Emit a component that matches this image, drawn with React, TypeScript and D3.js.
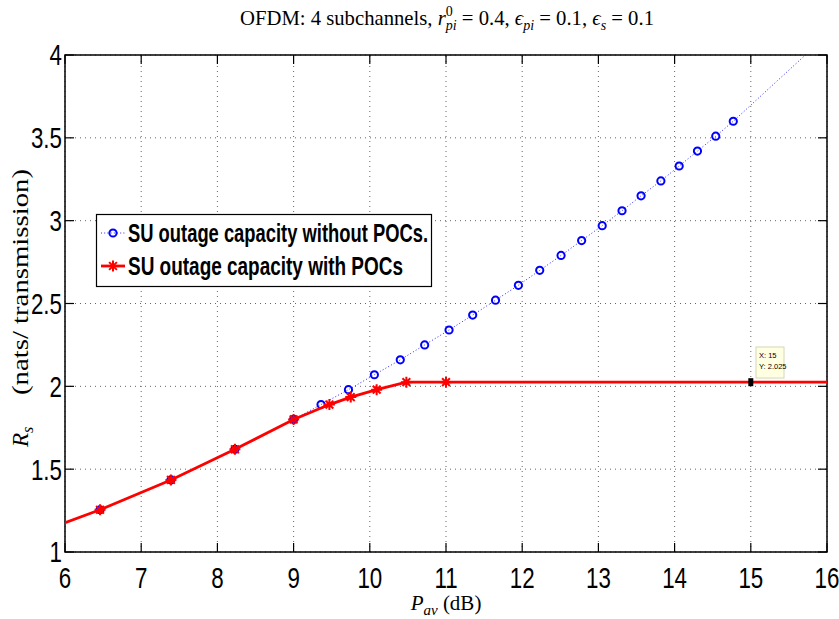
import React from "react";
import * as d3 from "d3";

const xTicks = [6, 7, 8, 9, 10, 11, 12, 13, 14, 15, 16];
const yTicks = [1, 1.5, 2, 2.5, 3, 3.5, 4];

const blueX = [5.46, 6.46, 7.39, 8.23, 9.0, 9.36, 9.72, 10.06, 10.4, 10.72, 11.04, 11.35, 11.65, 11.95, 12.23, 12.51, 12.78, 13.05, 13.31, 13.56, 13.82, 14.06, 14.3, 14.54, 14.77, 16.0];
const blueY = [1.085, 1.255, 1.435, 1.62, 1.8, 1.89, 1.98, 2.07, 2.16, 2.25, 2.34, 2.43, 2.52, 2.61, 2.7, 2.79, 2.88, 2.97, 3.06, 3.15, 3.24, 3.33, 3.42, 3.51, 3.6, 4.12];

const redX = [5.46, 6.46, 7.39, 8.23, 9.0, 9.47, 9.75, 10.09, 10.48, 11.0, 17];
const redY = [1.085, 1.255, 1.435, 1.62, 1.8, 1.89, 1.935, 1.98, 2.025, 2.025, 2.025];

const seriesNames = ["SU outage capacity without POCs.", "SU outage capacity with POCs"];
const tipX = 15;
const tipY = 2.025;

const W = 839, H = 619;
const L = 65, R = 827, T = 55, B = 552;

const x = d3.scaleLinear().domain([6, 16]).range([L, R]);
const y = d3.scaleLinear().domain([1, 4]).range([B, T]);

const sans = "'Liberation Sans', Arial, sans-serif";
const serif = "'Liberation Serif', 'Times New Roman', serif";

function asterisk(cx: number, cy: number, r: number) {
  const d = r * Math.SQRT1_2;
  return `M${cx - r},${cy}L${cx + r},${cy}M${cx},${cy - r}L${cx},${cy + r}M${cx - d},${cy - d}L${cx + d},${cy + d}M${cx - d},${cy + d}L${cx + d},${cy - d}`;
}

export default function App() {
  const blue = blueX.map((v, i) => [v, blueY[i]] as [number, number]);
  const red = redX.map((v, i) => [v, redY[i]] as [number, number]);
  const line = d3.line<[number, number]>().x(d => x(d[0])).y(d => y(d[1]));

  return (
    <svg width={W} height={H} style={{ position: "absolute", left: 0, top: 0, background: "#fff" }}>
      <defs>
        <clipPath id="plot">
          <rect x={L} y={T} width={R - L} height={B - T} />
        </clipPath>
      </defs>
      <rect x={0} y={0} width={W} height={H} fill="#fff" />
      {/* grid */}
      {xTicks.map(t => (
        <line key={"gx" + t} x1={x(t)} x2={x(t)} y1={B} y2={T} stroke="#666" strokeWidth={1} strokeDasharray="1 4" />
      ))}
      {yTicks.map(t => (
        <line key={"gy" + t} x1={L} x2={R} y1={y(t)} y2={y(t)} stroke="#666" strokeWidth={1} strokeDasharray="1 4" />
      ))}
      {/* ticks */}
      {xTicks.map(t => (
        <g key={"tx" + t}>
          <line x1={x(t)} x2={x(t)} y1={B} y2={B - 9} stroke="#000" strokeWidth={1.2} />
          <line x1={x(t)} x2={x(t)} y1={T} y2={T + 9} stroke="#000" strokeWidth={1.2} />
          <text transform={`translate(${x(t)},588) scale(0.77,1)`} textAnchor="middle" fontFamily={sans} fontSize={29}>{t}</text>
        </g>
      ))}
      {yTicks.map(t => (
        <g key={"ty" + t}>
          <line x1={L} x2={L + 9} y1={y(t)} y2={y(t)} stroke="#000" strokeWidth={1.2} />
          <line x1={R} x2={R - 9} y1={y(t)} y2={y(t)} stroke="#000" strokeWidth={1.2} />
          <text transform={`translate(62,${y(t)}) scale(0.77,1)`} dy="0.36em" textAnchor="end" fontFamily={sans} fontSize={29}>{t}</text>
        </g>
      ))}
      <rect x={L} y={T} width={R - L} height={B - T} fill="none" stroke="#000" strokeWidth={1.5} />

      <g clipPath="url(#plot)">
        <path d={line(blue) || ""} fill="none" stroke="#2a2aff" strokeWidth={1} strokeDasharray="1 2.2" />
        {blue.map((p, i) => (
          <circle key={"b" + i} cx={x(p[0])} cy={y(p[1])} r={3.6} fill="none" stroke="#0000ff" strokeWidth={2} />
        ))}
        <path d={line(red) || ""} fill="none" stroke="#ff0000" strokeWidth={2.8} />
        {red.map((p, i) => (
          <path key={"r" + i} d={asterisk(x(p[0]), y(p[1]), 5.5)} fill="none" stroke="#ff0000" strokeWidth={2} />
        ))}
      </g>

      {/* data tip */}
      <rect x={x(tipX) - 2.5} y={y(tipY) - 4} width={5} height={8} fill="#000" />
      <rect x={756} y={347} width={28} height={31} fill="#ffffe1" stroke="#d6d6b8" strokeWidth={1} />
      <text x={759} y={358} fontFamily={sans} fontSize={7.5}>{`X: ${tipX}`}</text>
      <text x={759} y={369} fontFamily={sans} fontSize={7.5}>{`Y: ${tipY}`}</text>

      {/* legend */}
      <rect x={96.5} y={214.5} width={335} height={72} fill="#fff" stroke="#000" strokeWidth={1.2} />
      <line x1={101} x2={125} y1={233} y2={233} stroke="#2a2aff" strokeWidth={1} strokeDasharray="1 2.2" />
      <circle cx={113} cy={233} r={3.6} fill="none" stroke="#0000ff" strokeWidth={2} />
      <text x={128} y={233} dy="0.36em" fontFamily={sans} fontWeight="bold" fontSize={26} textLength={300} lengthAdjust="spacingAndGlyphs">{seriesNames[0]}</text>
      <line x1={101} x2={125} y1={266} y2={266} stroke="#ff0000" strokeWidth={2.8} />
      <path d={asterisk(113, 266, 5.5)} fill="none" stroke="#ff0000" strokeWidth={2} />
      <text x={128} y={266} dy="0.36em" fontFamily={sans} fontWeight="bold" fontSize={26} textLength={275} lengthAdjust="spacingAndGlyphs">{seriesNames[1]}</text>

      {/* title */}
      <text x={447} y={25} textAnchor="middle" fontFamily={serif} fontSize={20.7}>
        <tspan>OFDM: 4 subchannels, </tspan>
        <tspan fontStyle="italic">r</tspan>
        <tspan fontSize={14} dy={-9}>0</tspan>
        <tspan fontSize={14} fontStyle="italic" dx={-7} dy={14}>pi</tspan>
        <tspan dy={-5}> = 0.4, </tspan>
        <tspan fontStyle="italic">ϵ</tspan>
        <tspan fontSize={14} fontStyle="italic" dy={5}>pi</tspan>
        <tspan dy={-5}> = 0.1, </tspan>
        <tspan fontStyle="italic">ϵ</tspan>
        <tspan fontSize={14} fontStyle="italic" dy={5}>s</tspan>
        <tspan dy={-5}> = 0.1</tspan>
      </text>

      {/* x label */}
      <text x={446} y={610} textAnchor="middle" fontFamily={serif} fontSize={21}>
        <tspan fontStyle="italic">P</tspan>
        <tspan fontSize={15} fontStyle="italic" dy={5}>av</tspan>
        <tspan dy={-5}> (dB)</tspan>
      </text>

      {/* y label */}
      <g transform="translate(28,447) rotate(-90)">
        <text x={0} y={0} fontFamily={serif} fontSize={23}>
          <tspan fontStyle="italic">R</tspan>
          <tspan fontSize={16} fontStyle="italic" dy={5}>s</tspan>
        </text>
        <text x={52} y={0} fontFamily={serif} fontSize={23} textLength={226} lengthAdjust="spacingAndGlyphs">(nats/ transmission)</text>
      </g>
    </svg>
  );
}
